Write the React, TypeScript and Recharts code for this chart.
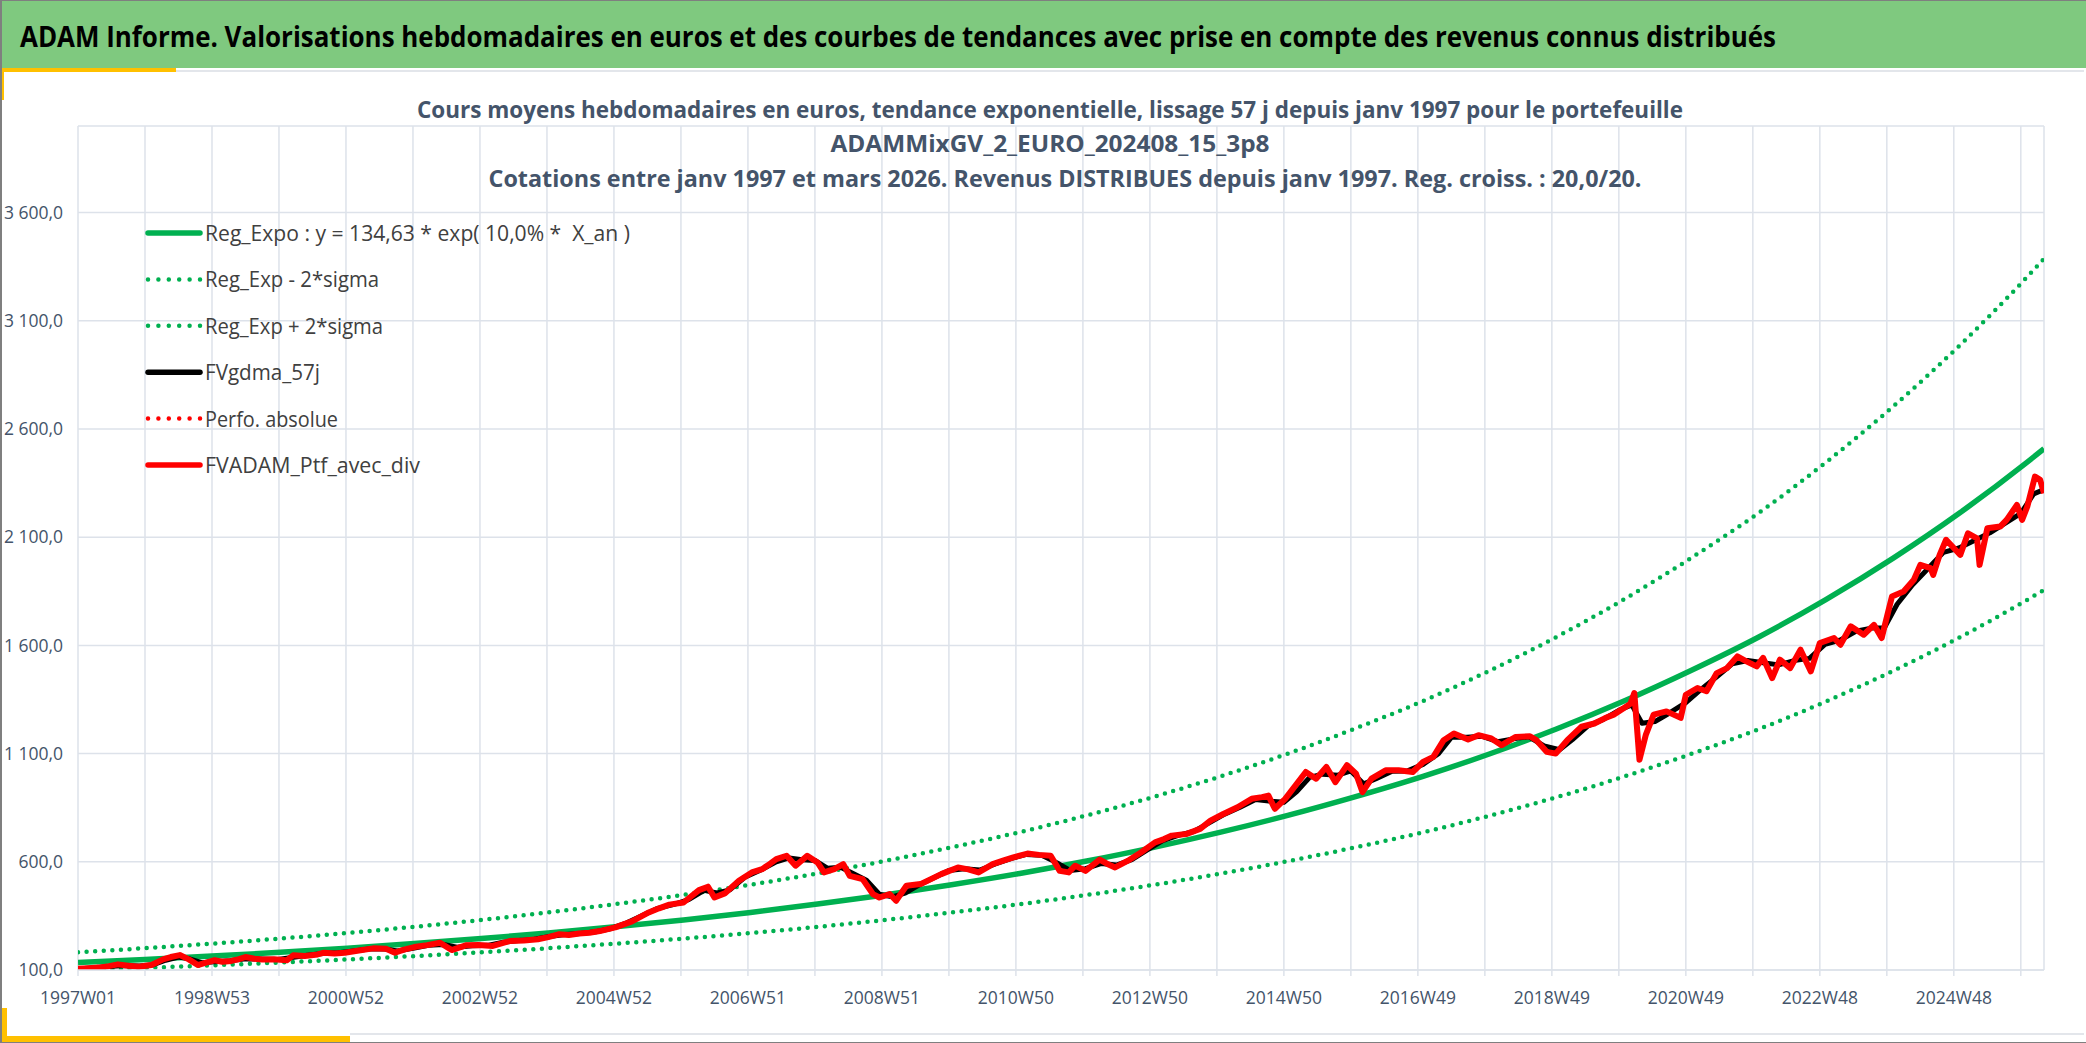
import { CartesianGrid, Line, LineChart, XAxis, YAxis } from "recharts";

const WIDTH = 2086;
const HEIGHT = 1043;

const GREEN = "#00B050";
const RED = "#FF0000";
const BLACK = "#000000";
const GRID = "#DDE2EA";
const SLATE = "#44546A";
const LEGEND_TEXT = "#404040";
const YELLOW = "#FFC000";
const BAR_GREEN = "#7FC97F";
const FONT = "'Open Sans', 'Noto Sans', sans-serif";

const title =
  "ADAM Informe. Valorisations hebdomadaires en euros et des courbes de tendances avec prise en compte des revenus connus distribués";
const subtitleLines = [
  "Cours moyens hebdomadaires en euros, tendance exponentielle, lissage 57 j depuis janv 1997 pour le portefeuille",
  "ADAMMixGV_2_EURO_202408_15_3p8",
  "Cotations entre janv 1997 et mars 2026. Revenus DISTRIBUES depuis janv 1997. Reg. croiss. : 20,0/20.",
];

// x axis = week index counted from 1997W01
const gridWeeks = [
  0, 52, 104, 156, 208, 260, 312, 364, 416, 468, 520, 572, 624, 676, 728, 780, 832, 884, 936, 988, 1040,
  1092, 1144, 1196, 1248, 1300, 1352, 1404, 1456, 1508,
];
const labelWeeks = [0, 104, 208, 312, 416, 520, 624, 728, 832, 936, 1040, 1144, 1248, 1352, 1456];
const weekLabels = [
  "1997W01", "1998W53", "2000W52", "2002W52", "2004W52", "2006W51", "2008W51", "2010W50",
  "2012W50", "2014W50", "2016W49", "2018W49", "2020W49", "2022W48", "2024W48",
];
const yTicks = [100, 600, 1100, 1600, 2100, 2600, 3100, 3600];

// trend curves, one point per year
const trendWeeks = [
  0, 52, 104, 157, 209, 261, 313, 365, 417, 470, 522, 574, 626, 678, 731, 783, 835, 887, 939, 991, 1044,
  1096, 1148, 1200, 1252, 1305, 1357, 1409, 1461, 1513, 1526,
];
const regExpo = [
  134.6, 148.8, 164.4, 181.7, 200.8, 222.0, 245.3, 271.1, 299.6, 331.1, 366.0, 404.5, 447.0, 494.0, 546.0,
  603.4, 666.8, 737.0, 814.5, 900.1, 994.8, 1099.4, 1215.0, 1342.8, 1484.1, 1640.1, 1812.6, 2003.3, 2213.9,
  2446.8, 2508.8,
];
const regLow = [
  99.6, 110.1, 121.7, 134.5, 148.6, 164.3, 181.5, 200.6, 221.7, 245.0, 270.8, 299.3, 330.8, 365.6, 404.0,
  446.5, 493.4, 545.4, 602.7, 666.1, 736.2, 813.6, 899.1, 993.7, 1098.2, 1213.7, 1341.3, 1482.4, 1638.3,
  1810.6, 1856.5,
];
const regHigh = [
  181.8, 200.9, 221.9, 245.3, 271.1, 299.7, 331.2, 366.0, 404.5, 447.0, 494.1, 546.1, 603.5, 666.9, 737.1,
  814.6, 900.2, 995.0, 1099.6, 1215.1, 1343.0, 1484.2, 1640.3, 1812.8, 2003.5, 2214.1, 2447.0, 2704.5,
  2988.8, 3303.2, 3386.9,
];

// [week, value]
const ptfPoints: [number, number][] = [
  [0, 106], [8, 108], [16, 111], [24, 118], [31, 126], [39, 120], [47, 115], [57, 123], [66, 149], [72, 160],
  [79, 169], [86, 149], [93, 123], [100, 135], [106, 145], [112, 138], [119, 142], [125, 150], [130, 160],
  [137, 152], [143, 149], [152, 150], [162, 145], [167, 168], [176, 165], [186, 172], [191, 180], [199, 176],
  [207, 180], [218, 190], [229, 200], [239, 198], [246, 180], [253, 194], [261, 206], [271, 215], [281, 226],
  [290, 192], [301, 214], [311, 216], [322, 211], [335, 234], [346, 236], [357, 242], [365, 252], [373, 265],
  [381, 262], [389, 269], [397, 272], [405, 280], [417, 297], [430, 325], [443, 366], [451, 385], [459, 402],
  [470, 412], [482, 469], [489, 485], [494, 435], [502, 454], [513, 512], [523, 551], [531, 566], [537, 590],
  [542, 612], [550, 628], [557, 582], [566, 628], [574, 597], [579, 551], [587, 566], [594, 589], [599, 535],
  [609, 520], [617, 451], [622, 435], [630, 451], [635, 420], [643, 489], [654, 497], [662, 520], [670, 543],
  [683, 574], [691, 565], [699, 551], [710, 589], [718, 605], [726, 620], [737, 638], [746, 632], [755, 628],
  [762, 558], [769, 551], [774, 582], [782, 558], [793, 610], [799, 590], [805, 574], [815, 605], [825, 643],
  [836, 690], [843, 705], [849, 721], [860, 728], [871, 752], [879, 790], [889, 821], [900, 852], [911, 891],
  [919, 899], [924, 906], [929, 845], [937, 891], [943, 937], [953, 1015], [961, 984], [969, 1038], [976, 968],
  [985, 1046], [992, 1007], [997, 922], [1004, 984], [1010, 1005], [1015, 1023], [1025, 1023], [1036, 1015],
  [1044, 1061], [1052, 1085], [1060, 1162], [1068, 1193], [1079, 1165], [1087, 1185], [1097, 1170],
  [1105, 1139], [1116, 1177], [1127, 1180], [1132, 1162], [1140, 1108], [1147, 1100], [1156, 1162],
  [1167, 1224], [1177, 1239], [1185, 1263], [1192, 1280], [1200, 1311], [1205, 1330], [1208, 1380],
  [1212, 1072], [1217, 1188], [1223, 1280], [1233, 1295], [1244, 1265], [1248, 1372], [1257, 1403],
  [1264, 1388], [1272, 1472], [1280, 1495], [1288, 1549], [1295, 1526], [1303, 1503], [1308, 1542],
  [1315, 1449], [1321, 1534], [1329, 1495], [1337, 1580], [1345, 1480], [1352, 1611], [1363, 1634],
  [1368, 1603], [1376, 1688], [1386, 1649], [1394, 1695], [1400, 1634], [1408, 1826], [1417, 1849],
  [1425, 1903], [1430, 1972], [1438, 1957], [1440, 1926], [1445, 2018], [1450, 2088], [1456, 2050],
  [1461, 2018], [1467, 2118], [1474, 2095], [1476, 1972], [1482, 2141], [1492, 2149], [1497, 2180],
  [1505, 2249], [1509, 2180], [1513, 2241], [1519, 2380], [1523, 2365], [1526, 2303],
];

// 57-day smoothed curve (mostly hidden under the red one)
const gdmaPoints: [number, number][] = [
  [0, 105], [12, 110], [24, 116], [36, 121], [48, 118], [58, 124], [68, 145], [78, 160], [86, 152], [96, 134],
  [106, 138], [118, 143], [130, 152], [142, 151], [154, 148], [166, 158], [178, 168], [190, 176], [202, 180],
  [214, 188], [226, 197], [238, 197], [248, 188], [260, 200], [272, 214], [284, 218], [294, 205], [306, 212],
  [318, 214], [330, 228], [342, 236], [354, 242], [366, 255], [378, 264], [390, 269], [402, 277], [414, 292],
  [426, 318], [438, 352], [450, 385], [462, 402], [474, 425], [486, 468], [496, 456], [506, 470], [518, 530],
  [530, 562], [542, 600], [552, 618], [562, 610], [572, 606], [582, 570], [592, 575], [602, 545], [612, 515],
  [622, 450], [632, 438], [642, 455], [652, 490], [664, 525], [676, 560], [688, 568], [700, 562], [712, 590],
  [724, 615], [736, 634], [748, 630], [760, 595], [770, 560], [782, 568], [794, 592], [806, 585], [818, 610],
  [830, 655], [842, 698], [854, 722], [866, 740], [878, 780], [890, 820], [902, 852], [914, 888], [926, 880],
  [936, 875], [946, 925], [956, 990], [966, 1005], [978, 1000], [988, 1020], [998, 960], [1008, 985],
  [1020, 1018], [1032, 1020], [1044, 1050], [1056, 1100], [1066, 1175], [1078, 1175], [1090, 1180],
  [1102, 1155], [1114, 1168], [1126, 1178], [1138, 1135], [1150, 1118], [1160, 1165], [1172, 1228],
  [1184, 1258], [1196, 1300], [1206, 1325], [1214, 1240], [1224, 1248], [1236, 1290], [1248, 1335],
  [1260, 1398], [1272, 1455], [1284, 1515], [1296, 1530], [1308, 1520], [1320, 1510], [1332, 1530],
  [1344, 1540], [1356, 1605], [1368, 1625], [1380, 1665], [1392, 1680], [1402, 1680], [1412, 1790],
  [1424, 1880], [1436, 1955], [1448, 2030], [1460, 2050], [1472, 2085], [1484, 2120], [1496, 2165],
  [1508, 2210], [1518, 2300], [1526, 2320],
];

const legendItems = [
  { name: "Reg_Expo : y = 134,63 * exp( 10,0% *  X_an )", color: GREEN, dotted: false, textWidth: 425 },
  { name: "Reg_Exp - 2*sigma", color: GREEN, dotted: true, textWidth: 174 },
  { name: "Reg_Exp + 2*sigma", color: GREEN, dotted: true, textWidth: 178 },
  { name: "FVgdma_57j", color: BLACK, dotted: false, textWidth: 115 },
  { name: "Perfo. absolue", color: RED, dotted: true, textWidth: 133 },
  { name: "FVADAM_Ptf_avec_div", color: RED, dotted: false, textWidth: 215 },
];

const DOTS = "0 8.6";

const trendRows = (values: number[]) => trendWeeks.map((week, i) => ({ week, value: values[i] }));
const pointRows = (pts: [number, number][]) => pts.map(([week, value]) => ({ week, value }));

function fmtY(v: number) {
  const s = v >= 1000 ? `${Math.floor(v / 1000)} ${String(v % 1000).padStart(3, "0")}` : String(v);
  return `${s},0`;
}

function fmtWeek(w: number) {
  const i = labelWeeks.indexOf(w);
  return i >= 0 ? weekLabels[i] : "";
}

const tickStyle = { fill: SLATE, fontSize: 17.5, fontFamily: FONT };

export default function App() {
  const abs = (s: React.CSSProperties): React.CSSProperties => ({ position: "absolute", ...s });

  return (
    <div style={{ position: "relative", width: WIDTH, height: HEIGHT, overflow: "hidden", background: "#fff" }}>
      <style>{"body{margin:0}"}</style>

      {/* frame */}
      <div style={abs({ left: 0, top: 0, width: WIDTH, height: 68, background: BAR_GREEN })} />
      <div style={abs({ left: 176, top: 70, width: WIDTH - 178, height: 2, background: "#E3E6EB" })} />
      <div style={abs({ left: 0, top: 68, width: 176, height: 4, background: YELLOW })} />
      <div style={abs({ left: 0, top: 68, width: 4, height: 32, background: YELLOW })} />
      <div style={abs({ left: 350, top: 1033, width: WIDTH - 352, height: 2, background: "#E3E6EB" })} />
      <div style={abs({ left: 0, top: 1036, width: 350, height: 6, background: YELLOW })} />
      <div style={abs({ left: 0, top: 1008, width: 7, height: 34, background: YELLOW })} />
      <div style={abs({ left: 0, top: 0, width: WIDTH - 2, height: HEIGHT - 2, border: "1px solid #7F7F7F", borderLeftWidth: 2 })} />

      <div style={abs({ left: 0, top: 0 })}>
        <LineChart width={WIDTH} height={HEIGHT} margin={{ top: 126, right: 42, bottom: 33, left: 0 }}>
          <CartesianGrid stroke={GRID} strokeWidth={1.5} />
          <XAxis
            type="number"
            dataKey="week"
            domain={[0, 1526]}
            allowDataOverflow
            ticks={gridWeeks}
            interval={0}
            tickFormatter={fmtWeek}
            height={40}
            tickSize={6}
            tickMargin={16}
            tickLine={{ stroke: GRID, strokeWidth: 1.5 }}
            axisLine={{ stroke: GRID, strokeWidth: 1.5 }}
            tick={tickStyle}
          />
          <YAxis
            type="number"
            domain={[100, 4000]}
            allowDataOverflow
            ticks={yTicks}
            interval={0}
            tickFormatter={fmtY}
            width={78}
            axisLine={false}
            tickLine={false}
            tickSize={0}
            tickMargin={15}
            tick={tickStyle}
          />
          <Line data={trendRows(regExpo)} dataKey="value" type="monotone" stroke={GREEN} strokeWidth={5.5}
            dot={false} activeDot={false} isAnimationActive={false} />
          <Line data={trendRows(regLow)} dataKey="value" type="monotone" stroke={GREEN} strokeWidth={4.5}
            strokeDasharray={DOTS} strokeLinecap="round" dot={false} activeDot={false} isAnimationActive={false} />
          <Line data={trendRows(regHigh)} dataKey="value" type="monotone" stroke={GREEN} strokeWidth={4.5}
            strokeDasharray={DOTS} strokeLinecap="round" dot={false} activeDot={false} isAnimationActive={false} />
          <Line data={pointRows(gdmaPoints)} dataKey="value" type="linear" stroke={BLACK} strokeWidth={5}
            strokeLinejoin="round" dot={false} activeDot={false} isAnimationActive={false} />
          <Line data={pointRows(ptfPoints)} dataKey="value" type="linear" stroke={RED} strokeWidth={6}
            strokeLinejoin="round" dot={false} activeDot={false} isAnimationActive={false} />
        </LineChart>
      </div>

      {/* titles and legend */}
      <svg width={WIDTH} height={HEIGHT} style={abs({ left: 0, top: 0, pointerEvents: "none" })}>
        <text x={20} y={47} textLength={1756} lengthAdjust="spacingAndGlyphs" fontSize={29} fontWeight={700}
          fontFamily={FONT} fill="#000">
          {title}
        </text>
        {subtitleLines.map((line, i) => (
          <text key={i} x={[1050, 1050, 1065][i]} y={[118, 152, 187][i]} textAnchor="middle"
            textLength={[1266, 439, 1153][i]} lengthAdjust="spacingAndGlyphs" fontSize={22.4} fontWeight={700}
            fontFamily={FONT} fill={SLATE}>
            {line}
          </text>
        ))}
        {legendItems.map((item, i) => {
          const y = 233 + i * 46.4;
          return (
            <g key={item.name}>
              <line x1={148} x2={200} y1={y} y2={y} stroke={item.color}
                strokeWidth={item.dotted ? 4.5 : 5.5} strokeDasharray={item.dotted ? "0 10.4" : undefined}
                strokeLinecap="round" />
              <text x={205} y={y + 8} textLength={item.textWidth} lengthAdjust="spacingAndGlyphs" fontSize={22}
                fontFamily={FONT} fill={LEGEND_TEXT} style={{ whiteSpace: "pre" }}>
                {item.name}
              </text>
            </g>
          );
        })}
      </svg>
    </div>
  );
}
